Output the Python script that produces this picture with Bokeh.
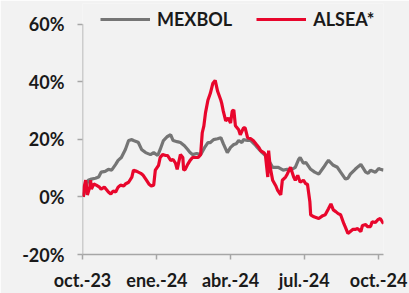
import datetime as dt
from bokeh.plotting import figure
from bokeh.models import Legend, LegendItem, FixedTicker, Range1d, ColumnDataSource
from bokeh.embed import file_html
from bokeh.resources import INLINE

# ---- data ----
start_date = dt.datetime(2023, 10, 1)

mexbol_days = [1, 4, 7, 11, 16, 20, 23, 28, 32, 36, 41, 44, 48, 53, 57, 61, 63, 67, 69, 73,
               78, 84, 88, 93, 96, 100, 105, 109, 112, 117, 121, 126, 130, 133, 136, 141, 146,
               151, 155, 158, 162, 167, 171, 174, 179, 183, 187, 190, 193, 197, 199, 204, 208,
               213, 216, 222, 226, 230, 235, 239, 242, 248, 253, 257, 263, 267, 269, 273, 276,
               282, 287, 292, 298, 302, 304, 310, 315, 319, 325, 328, 331, 337, 341, 344, 350,
               353, 356, 362, 366, 368, 372]
mexbol_vals = [0.0, 3.4, 5.8, 6.2, 6.5, 6.9, 8.6, 8.9, 9.6, 9.3, 11.3, 12.7, 13.7, 16.5, 19.6,
               19.9, 19.6, 19.2, 18.9, 16.5, 15.4, 14.7, 15.4, 14.4, 16.5, 19.6, 21.0, 21.6,
               19.6, 19.2, 18.9, 17.8, 16.5, 15.4, 14.7, 15.1, 14.7, 17.2, 18.9, 18.9, 19.9,
               20.2, 20.6, 18.5, 15.4, 17.2, 18.2, 18.5, 19.6, 18.9, 19.9, 19.6, 19.6, 18.2,
               17.2, 15.4, 14.4, 12.7, 10.3, 10.3, 10.3, 9.3, 9.6, 9.3, 10.3, 13.0, 13.7, 11.7,
               12.0, 9.6, 8.6, 7.9, 10.3, 12.0, 12.7, 11.0, 10.3, 8.6, 6.2, 6.5, 7.9, 9.6, 10.6,
               11.3, 8.6, 8.2, 9.3, 8.6, 9.9, 9.6, 9.3]

alsea_days = [1, 2, 4, 6, 9, 10, 11, 14, 17, 21, 23, 27, 30, 32, 35, 38, 41, 44, 47, 51, 53,
              57, 61, 63, 67, 69, 72, 75, 79, 82, 85, 88, 90, 94, 96, 99, 103, 105, 109, 112,
              115, 117, 121, 124, 125, 127, 130, 133, 136, 140, 143, 146, 148, 150, 152, 155,
              158, 161, 164, 167, 171, 172, 174, 177, 180, 183, 185, 187, 189, 193, 195, 199,
              201, 204, 208, 211, 215, 218, 220, 224, 226, 229, 230, 232, 235, 239, 241, 245,
              247, 251, 253, 257, 261, 263, 266, 269, 273, 276, 278, 281, 282, 286, 292, 297,
              300, 304, 307, 310, 313, 316, 319, 323, 325, 328, 331, 334, 337, 340, 344, 346,
              350, 352, 356, 358, 362, 365, 368, 372]
alsea_vals = [0.0, 3.4, 5.8, 0.7, 3.4, 5.8, 2.7, 4.5, 4.1, 3.4, 2.7, 3.4, 2.4, 1.7, 1.0, 2.1,
              1.7, 3.4, 4.1, 3.8, 4.5, 5.1, 6.9, 9.3, 8.9, 8.6, 8.2, 7.5, 5.8, 4.5, 3.8, 4.1,
              9.3, 11.0, 13.7, 14.7, 14.4, 14.4, 12.7, 13.0, 11.7, 9.6, 14.7, 13.7, 9.3, 9.6,
              11.3, 12.7, 13.7, 13.7, 13.7, 14.7, 22.3, 24.7, 29.2, 33.6, 36.0, 39.4, 40.5,
              36.7, 33.6, 32.6, 29.8, 26.4, 27.4, 25.7, 29.8, 30.2, 24.7, 23.3, 21.6, 24.0,
              24.0, 20.6, 20.2, 19.6, 18.2, 17.2, 16.1, 15.4, 14.7, 6.9, 16.1, 10.3, 5.8, 3.8,
              2.4, 0.7, 5.8, 6.9, 7.9, 10.3, 6.9, 5.8, 7.5, 5.1, 5.8, 4.5, 4.5, -1.7, -6.2,
              -6.9, -7.5, -6.5, -6.2, -4.1, -2.4, -4.5, -5.1, -5.8, -6.2, -9.3, -10.6, -12.7,
              -12.0, -11.3, -11.3, -11.0, -12.0, -9.9, -9.6, -10.3, -10.3, -8.6, -8.9, -7.9,
              -7.5, -9.3]

tick_dates = [dt.datetime(2023, 10, 1), dt.datetime(2024, 1, 1), dt.datetime(2024, 4, 1),
              dt.datetime(2024, 7, 1), dt.datetime(2024, 10, 1)]
tick_labels = ["oct.-23", "ene.-24", "abr.-24", "jul.-24", "oct.-24"]
y_ticks = [-20, 0, 20, 40, 60]
y_labels = ["-20%", "0%", "20%", "40%", "60%"]
series_names = ["MEXBOL", "ALSEA*"]
colors = ["#757575", "#E8062C"]

mex_src = ColumnDataSource(dict(x=[start_date + dt.timedelta(days=d) for d in mexbol_days], y=mexbol_vals))
als_src = ColumnDataSource(dict(x=[start_date + dt.timedelta(days=d) for d in alsea_days], y=alsea_vals))

BG = "#F2F2F2"
FONT = "Lato"
AXIS_COLOR = "#A6A6A6"

p = figure(width=409, height=293, x_axis_type="datetime", output_backend="svg",
           toolbar_location=None,
           x_range=Range1d(start_date, dt.datetime(2024, 10, 7)),
           y_range=Range1d(-20, 67.2),
           background_fill_color=BG, border_fill_color=BG)
p.min_border_left = 82
p.min_border_right = 26
p.min_border_top = 3
p.min_border_bottom = 35
p.outline_line_color = None
p.grid.visible = False

# y axis line only between the first and last tick
p.segment(x0=[start_date], y0=[y_ticks[0]], x1=[start_date], y1=[y_ticks[-1]],
          line_color=AXIS_COLOR, line_width=1.5)

r_mex = p.line("x", "y", source=mex_src, line_color=colors[0], line_width=3.2)
r_als = p.line("x", "y", source=als_src, line_color=colors[1], line_width=3.2)

tick_ms = [(d - dt.datetime(1970, 1, 1)).total_seconds() * 1000 for d in tick_dates]
p.xaxis.ticker = FixedTicker(ticks=tick_ms)
p.xaxis.major_label_overrides = {t: l for t, l in zip(tick_ms, tick_labels)}
p.yaxis.ticker = FixedTicker(ticks=y_ticks)
p.yaxis.major_label_overrides = {t: l for t, l in zip(y_ticks, y_labels)}

for ax in (p.xaxis, p.yaxis):
    ax.axis_line_color = AXIS_COLOR
    ax.axis_line_width = 1.5
    ax.major_tick_line_color = AXIS_COLOR
    ax.major_tick_line_width = 1.5
    ax.major_tick_out = 5
    ax.major_tick_in = 0
    ax.minor_tick_line_color = None
    ax.major_label_text_font = FONT
    ax.major_label_text_font_style = "bold"
    ax.major_label_text_font_size = "18px"
    ax.major_label_text_color = "#1A1A1A"
p.yaxis.axis_line_color = None
p.yaxis.major_label_standoff = 13
p.xaxis.major_label_standoff = 9

legend = Legend(items=[LegendItem(label=series_names[0], renderers=[r_mex]),
                       LegendItem(label=series_names[1], renderers=[r_als])],
                location=(18, 224), orientation="horizontal",
                background_fill_alpha=0, border_line_color=None,
                label_text_font=FONT, label_text_font_style="bold",
                label_text_font_size="18px", label_text_color="#1A1A1A",
                glyph_width=50, glyph_height=18, label_height=18, label_standoff=7,
                spacing=24, padding=0, margin=0)
p.add_layout(legend, "center")

open("out.html", "w").write(file_html(p, INLINE))
